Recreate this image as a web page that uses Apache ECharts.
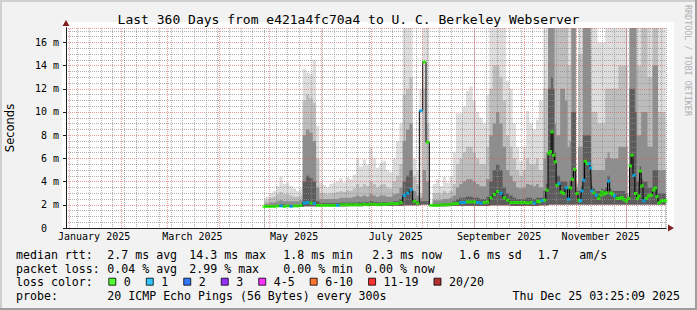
<!DOCTYPE html>
<html><head><meta charset="utf-8">
<script src="https://cdn.jsdelivr.net/npm/echarts@6/dist/echarts.min.js"></script>
<style>html,body{margin:0;padding:0;background:#f2f2f2}#c{width:697px;height:310px}</style>
</head><body><div id="c"></div>
<script>
// ---------------- data ----------------
const startTime = Date.UTC(2024, 11, 30, 3, 25, 9);   // 360 days before end
const endTime   = Date.UTC(2025, 11, 25, 3, 25, 9);

// x: days since start of graph
const day = [119,121,123,125,127,129,131,133,135,137,139,141,143,145,147,149,151,153,155,157,159,161,163,165,167,169,171,173,175,177,179,181,183,185,187,189,191,193,195,197,199,201,203,205,207,209,211,213,215,217,219,221,223,225,227,229,231,233,235,237,239,241,243,245,247,249,251,253,255,257,259,261,263,265,267,269,271,273,275,277,279,281,283,
284.2,285.6,287.2,288.6,289.8,290.6,291.6,292.6,293.6,294.6,295.8,297.2,298.6,300.2,301.6,302.6,303.8,305.2,306.6,307.8,308.8,309.6,310.6,311.6,312.8,313.8,314.8,315.6,316.8,318.2,319.6,320.6,321.6,322.8,324.2,325.6,326.8,327.8,329.2,330.6,332.2,333.6,334.8,336.2,337.6,338.6,339.6,340.8,341.8,342.8,343.8,344.6,345.6,346.8,348.2,349.6,351.2,352.6,353.6,354.6,355.8,357.2,358.6,359.8];

// median rtt (ms)
const median = [1.85,1.85,1.85,1.85,1.9,1.9,1.85,1.9,1.85,1.9,1.9,1.95,
2.15,2.2,2.15,2.1,1.95,
1.95,1.95,1.95,1.95,1.95,1.95,2.0,2.0,2.0,2.0,2.0,2.0,2.0,2.05,2.0,2.05,2.05,2.0,2.05,2.05,2.05,2.1,2.1,2.1,2.2,
2.8,3.0,3.3,2.3,2.15,
10.1,14.3,7.4,1.95,
1.95,1.95,2.0,2.0,2.0,2.05,
2.1,2.1,2.2,2.2,2.25,2.25,2.25,2.2,2.15,2.2,2.25,
2.6,2.9,3.15,3.0,2.6,
2.4,2.2,2.2,2.2,2.2,2.2,2.15,2.2,2.15,2.3,
2.26,2.35,2.4,3.26,6.4,6.6,8.27,6.27,5.7,3.7,
3.84,3.1,2.98,3.46,2.49,3.46,4.2,5.06,2.98,2.4,
2.35,3.2,4.12,5.75,5.55,5.55,5.18,3.2,3.03,2.83,
2.55,2.83,3.1,2.92,3.03,4.03,3.03,2.92,2.77,2.55,
2.55,2.64,2.46,2.32,2.55,5.35,6.27,4.55,2.98,2.55,
2.77,4.9,3.63,2.35,2.55,2.77,2.83,3.26,3.46,2.7,
2.17,2.32,2.35,2.35];

// loss class index per point (0 = 0 lost, 1 = 1 lost ...)
const loss = [0,0,0,0,0,1,0,0,1,0,0,0,
1,1,0,1,0,
0,0,0,0,0,1,0,0,0,0,0,0,0,0,0,0,0,0,0,0,0,0,0,0,0,
1,1,1,0,0,
1,0,0,0,
0,0,0,0,0,0,
0,0,1,1,0,0,0,1,1,0,0,
0,0,0,1,0,
0,0,0,0,0,0,0,0,1,0,
0,1,0,0,0,0,0,0,0,0,
1,0,0,1,1,0,0,0,0,0,
1,1,1,0,0,1,1,1,0,1,
0,0,0,0,0,1,0,0,1,0,
0,0,0,0,0,0,0,1,0,0,
0,0,0,1,0,0,0,0,0,0,
0,0,0,0];

// smoke: lower edge and top edges of the shaded bands (ms), dark -> light
const smokeLow = [1.78,1.78,1.78,1.78,1.8,1.8,1.8,1.8,1.8,1.8,1.8,1.82,
1.85,1.85,1.85,1.85,1.85,
1.85,1.85,1.85,1.85,1.85,1.85,1.85,1.85,1.88,1.88,1.88,1.88,1.88,1.9,1.9,1.9,1.9,1.9,1.9,1.9,1.9,1.9,1.9,1.9,1.9,
1.95,1.95,1.95,1.95,1.95,
2.0,2.0,2.0,1.95,
1.85,1.85,1.85,1.85,1.88,1.9,
1.9,1.9,1.9,1.9,1.9,1.9,1.9,1.9,1.9,1.9,1.9,
1.95,1.95,1.95,1.95,1.95,
1.95,1.9,1.9,1.9,1.9,1.9,1.9,1.9,1.9,1.9,
1.95,1.95,1.95,1.95,2.0,2.0,2.0,2.0,2.0,2.0,
2.0,2.0,2.0,2.0,2.0,2.0,2.0,2.0,2.0,2.0,
2.0,2.0,2.0,2.0,2.0,2.0,2.0,2.0,2.0,2.0,
2.0,2.0,2.0,2.0,2.0,2.0,2.0,2.0,2.0,2.0,
2.0,2.0,2.0,2.0,2.0,2.0,2.0,2.0,2.0,2.0,
2.0,2.0,2.0,2.0,2.0,2.0,2.0,2.0,2.0,2.0,
2.0,2.0,2.0,2.0];

const smoke1 = [1.95,1.95,1.95,2.0,2.0,2.05,2.0,2.0,2.0,2.0,2.0,2.05,
4.0,4.5,4.3,4.0,2.3,
2.15,2.15,2.15,2.15,2.15,2.15,2.2,2.2,2.2,2.2,2.2,2.25,2.2,2.25,2.2,2.3,2.25,2.2,2.25,2.25,2.2,2.2,2.3,2.3,2.5,
4.0,4.5,5.0,2.5,2.3,
2.3,2.3,2.3,1.95,
2.1,2.1,2.1,2.15,2.15,2.2,
2.3,2.5,2.6,2.6,2.7,2.7,2.6,2.6,2.5,2.5,2.7,
4.0,5.0,5.5,5.0,3.5,
3.0,2.8,2.6,2.5,2.5,2.5,2.6,2.6,2.5,2.6,
2.6,2.6,3.2,3.8,12,12,13,12,6.5,4.5,
4.5,4,4,4,3.5,4,10,10,3.2,3.2,
3.2,3.6,8,8,8,8,8,3.6,3.4,3.2,
3.2,3.2,3.4,3.3,3.5,4.5,3.4,3.2,3.2,3.2,
3.2,3.2,3.2,3.0,2.6,12,12,12,10,4,
4,5.3,4.2,4,4,3.5,3.5,5,5,5,
3,3,3,3];

const smoke2 = [2.1,2.1,2.2,2.2,2.3,2.4,2.3,2.3,2.3,2.3,2.3,2.4,
8.0,8.5,8.2,7.5,3.5,
2.5,2.5,2.5,2.5,2.5,2.5,2.6,2.6,2.6,2.6,2.7,2.8,2.7,2.8,2.7,2.9,2.8,2.7,2.8,2.8,2.7,2.7,2.9,3.0,3.5,
7.5,8.5,9.0,3.2,2.8,
2.6,5.0,4.0,1.95,
2.4,2.4,2.4,2.5,2.5,2.6,
2.8,3.5,3.8,4.0,4.2,4.2,4.0,3.8,3.6,3.6,4.2,
8.0,9.0,10.0,9.0,7.0,
5.0,4.5,4.0,3.5,3.4,3.5,3.8,3.7,3.6,3.8,
3.5,3.5,6,6.5,17.5,17.5,17.5,17.5,9,8,
8,12,12,11,7,7.5,17.5,17.5,3.5,7,
7,7,17.5,17.5,17.5,17.5,17.5,5,5,5,
5,5,5,5,6,6.5,6,6,6,6,
7,7,7,7,2.7,17.5,17.5,17.5,17.5,8,
8,8,10,10,10,7,7,14,14,14,
5,5,5,5];

const smoke3 = [2.3,2.4,2.6,2.7,2.9,3.1,2.9,2.9,2.8,2.7,2.7,2.8,
11.0,11.5,11.2,10.8,6.0,
3.0,3.0,2.9,3.0,3.0,3.1,3.2,3.1,3.3,3.2,3.4,3.8,3.5,3.8,3.6,4.0,3.8,3.5,3.7,3.8,3.5,3.4,4.0,4.5,5.5,
11.5,12.0,13.0,4.5,3.8,
3.0,12.0,9.0,1.95,
3.0,3.0,2.9,3.2,3.0,3.2,
3.8,5.5,6.0,6.5,7.0,7.0,6.5,6.0,5.5,5.5,7.0,
12.0,14.0,14.0,13.0,11.0,
8.0,7.0,6.0,5.0,4.5,5.0,6.0,5.5,5.5,6.0,
5,5,12,12,17.5,17.5,17.5,17.5,17.5,17.5,
17.5,17.5,17.5,17.5,14,14,17.5,17.5,3.8,15,
15,15,17.5,17.5,17.5,17.5,17.5,10,10,10,
9,9,9,9,12,12,12,12,12,12,
14,14,14,14,2.8,17.5,17.5,17.5,17.5,14,
14,14,17.5,17.5,17.5,13,13,17.5,17.5,17.5,
10,10,10,10];

const smoke4 = [2.6,2.7,3.0,3.2,3.6,4.4,3.8,3.9,3.6,3.4,3.2,3.4,
13.7,13.4,13.3,14.5,8.8,
3.9,3.7,3.5,3.8,3.9,4.0,4.3,3.9,4.4,4.2,4.6,6.0,5.3,5.9,5.4,6.9,6.0,5.2,5.6,5.8,5.0,4.8,6.0,7.5,9.0,
17.5,17.5,17.5,6.0,5.0,
12.0,17.5,17.5,1.95,
3.8,4.2,3.6,4.4,3.9,4.4,
6.5,9.9,9.9,10.5,11.8,12.2,11.0,10.0,9.5,9.0,11.5,
17.5,17.5,17.5,17.5,17.5,
12.7,12.0,9.0,7.0,5.8,7.0,10.1,9.0,8.5,9.3,
11,11,17.5,17.5,17.5,17.5,17.5,17.5,17.5,17.5,
17.5,17.5,17.5,17.5,17.5,17.5,17.5,17.5,4.0,17.5,
17.5,17.5,17.5,17.5,17.5,17.5,17.5,17.5,17.5,17.5,
16,16,16,16,17.5,17.5,17.5,17.5,17.5,17.5,
17.5,17.5,17.5,17.5,2.9,17.5,17.5,17.5,17.5,17.5,
17.5,17.5,17.5,17.5,17.5,17.5,17.5,17.5,17.5,17.5,
17.5,17.5,17.5,17.5];

// axis / legend texts
const monthStarts = ['2025-01-01','2025-02-01','2025-03-01','2025-04-01','2025-05-01','2025-06-01','2025-07-01','2025-08-01','2025-09-01','2025-10-01','2025-11-01','2025-12-01'];
const labelMonths = ['2025-01-01','2025-03-01','2025-05-01','2025-07-01','2025-09-01','2025-11-01'];
const labelTexts  = ['January 2025','March 2025','May 2025','July 2025','September 2025','November 2025'];
const labelOffsetDays = 15;
const lossClasses = ['0','1','2','3','4-5','6-10','11-19','20/20'];
const lossColors  = ['#26ff00','#00b8ff','#0059ff','#7e00ff','#ff00ff','#ff5500','#ff0000','#a10000'];
const rowMedian = ['median rtt:','2.7 ms avg','14.3 ms max','1.8 ms min','2.3 ms now','1.6 ms sd','1.7','am/s'];
const rowLoss   = ['packet loss:','0.04 % avg','2.99 % max','0.00 % min','0.00 % now'];
const probeText = ['probe:','20 ICMP Echo Pings (56 Bytes) every 300s','Thu Dec 25 03:25:09 2025'];
const titleText = 'Last 360 Days from e421a4fc70a4 to U. C. Berkeley Webserver';

// ---------------- chart ----------------
const DAY = 86400000;
const totalDays = (endTime - startTime) / DAY;
const dayOf = s => (Date.parse(s + 'T00:00:00Z') - startTime) / DAY;
const labelDays = labelMonths.map(s => dayOf(s) + labelOffsetDays);
const pts = arr => arr.map((v, i) => [day[i], v]);

const MONO = '"DejaVu Sans Mono", monospace';
const gridMinor = 'rgba(143,143,143,0.7)';
const gridMajor = 'rgba(222,79,79,0.55)';
const FS = 11.6;

// bands drawn from the axis up, lightest (tallest) first, darker on top, then a white mask below the smoke
const bands = [
  {top: smoke4, color: '#dddddd'},
  {top: smoke3, color: '#bdbdbd'},
  {top: smoke2, color: '#8e8e8e'},
  {top: smoke1, color: '#5c5c5c'},
  {top: smokeLow, color: '#ffffff'}
];

const series = [];
bands.forEach((b, k) => series.push({type: 'line', name: 'smoke' + k, step: 'middle',
  data: pts(b.top), showSymbol: false, symbol: 'none', lineStyle: {width: 0, opacity: 0},
  areaStyle: {color: b.color, opacity: 1}, silent: true, z: 2}));
series.push({type: 'line', name: 'median', step: 'middle', data: pts(median), showSymbol: false, symbol: 'none',
  lineStyle: {color: '#000', width: 1}, silent: true, z: 4,
  markLine: {silent: true, symbol: ['none', 'none'], label: {show: false}, animation: false,
    lineStyle: {color: gridMajor, type: [1, 1], width: 1},
    data: monthStarts.map(s => ({xAxis: dayOf(s)}))}});
lossClasses.forEach((c, k) => series.push({type: 'scatter', name: c, symbol: 'rect', symbolSize: [3.4, 3],
  data: day.map((d, i) => loss[i] === k ? [d, median[i]] : null).filter(Boolean),
  itemStyle: {color: lossColors[k]}, silent: true, z: 5}));

const txt = (x, y, text, o = {}) => ({type: 'text', x, y, silent: true, z: 10,
  style: {text, font: (o.size || FS) + 'px ' + (o.family || MONO), fill: o.color || '#000',
    align: o.align || 'left', verticalAlign: 'middle', textAlign: o.align || 'left', textVerticalAlign: 'middle'}});

const medX = [16, 107.3, 189.3, 283.3, 372.3, 459, 537.7, 579.3];
const lossX = [16, 107.3, 189.3, 283.3, 365];
const graphics = [
  {type: 'rect', shape: {x: 62, y: 22, width: 612, height: 207}, style: {fill: '#fff'}, z: -5, silent: true},
  {type: 'rect', shape: {x: 0, y: 0, width: 697, height: 2}, style: {fill: '#cfcfcf'}, z: -4, silent: true},
  {type: 'rect', shape: {x: 0, y: 0, width: 2, height: 310}, style: {fill: '#cfcfcf'}, z: -4, silent: true},
  {type: 'rect', shape: {x: 0, y: 308, width: 697, height: 2}, style: {fill: '#9e9e9e'}, z: -4, silent: true},
  {type: 'rect', shape: {x: 695, y: 0, width: 2, height: 310}, style: {fill: '#9e9e9e'}, z: -4, silent: true},
  txt(348.5, 19, titleText, {size: 13, align: 'center'}),
  Object.assign(txt(688, 5, 'RRDTOOL / TOBI OETIKER', {size: 8.4, color: '#b0b0b0'}), {rotation: -Math.PI / 2})
];
rowMedian.forEach((t, i) => graphics.push(txt(medX[i], 254.5, t)));
rowLoss.forEach((t, i) => graphics.push(txt(lossX[i], 268.5, t)));
graphics.push(txt(16, 282, 'loss color:'));
graphics.push(txt(16, 296, probeText[0]));
graphics.push(txt(107.3, 296, probeText[1]));
graphics.push(txt(680, 296, probeText[2], {align: 'right'}));

const chart = echarts.init(document.getElementById('c'), null, {renderer: 'svg', width: 697, height: 310});
chart.setOption({
  animation: false,
  backgroundColor: '#f2f2f2',
  grid: {left: 66, top: 28, width: 600, height: 200, containLabel: false, outerBoundsMode: 'none', show: false},
  xAxis: [
    {type: 'value', position: 'bottom', min: 0, max: totalDays, interval: 7, z: 3,
      axisLine: {show: true, onZero: false, lineStyle: {color: '#1f1f1f', width: 1}},
      axisTick: {show: false},
      axisLabel: {show: true, customValues: labelDays, margin: 3, fontFamily: MONO, fontSize: 10, color: '#000',
        formatter: v => { const i = labelDays.findIndex(d => Math.abs(d - v) < 0.01); return i >= 0 ? labelTexts[i] : ''; }},
      splitLine: {show: true, lineStyle: {color: gridMinor, type: [1, 1], width: 1}}},
    {type: 'value', position: 'bottom', min: 0, max: totalDays, z: 2,
      axisLine: {show: true, onZero: false, symbol: ['none', 'triangle'], symbolSize: [7, 6], symbolOffset: [0, 5],
        lineStyle: {color: '#801f1f', width: 1}},
      axisTick: {show: false}, axisLabel: {show: false}, splitLine: {show: false}}
  ],
  yAxis: [
    {type: 'value', position: 'left', min: 0, max: 17.24, interval: 2, z: 3,
      axisLine: {show: true, onZero: false, lineStyle: {color: '#1f1f1f', width: 1}},
      axisTick: {show: true, length: 3, lineStyle: {color: '#1f1f1f'}},
      axisLabel: {showMaxLabel: false, margin: 7, fontFamily: MONO, fontSize: 10, color: '#000',
        formatter: v => v === 0 ? '0\u00a0\u00a0' : v + ' m'},
      splitLine: {show: true, lineStyle: {color: gridMajor, type: [1, 1], width: 1}},
      minorTick: {show: false, splitNumber: 4},
      minorSplitLine: {show: true, lineStyle: {color: gridMinor, type: [1, 1], width: 1}},
      name: 'Seconds', nameLocation: 'middle', nameGap: 50, nameRotate: 90,
      nameTextStyle: {fontFamily: '"DejaVu Sans", sans-serif', fontSize: 11.5, color: '#000'}},
    {type: 'value', position: 'left', min: 0, max: 17.24, z: 2,
      axisLine: {show: true, onZero: false, symbol: ['none', 'triangle'], symbolSize: [7, 6], symbolOffset: [0, 5],
        lineStyle: {color: '#801f1f', width: 1}},
      axisTick: {show: false}, axisLabel: {show: false}, splitLine: {show: false}}
  ],
  legend: {show: true, left: 108.3, top: 274.7, padding: 0, itemWidth: 7, itemHeight: 7, itemGap: 15,
    icon: 'rect', selectedMode: false, data: lossClasses,
    textStyle: {fontFamily: MONO, fontSize: FS, color: '#000', lineHeight: 14, padding: [0, 0, 0, 3]},
    itemStyle: {borderColor: '#000', borderWidth: 1}},
  series: series,
  graphic: {elements: graphics}
});
</script></body></html>
